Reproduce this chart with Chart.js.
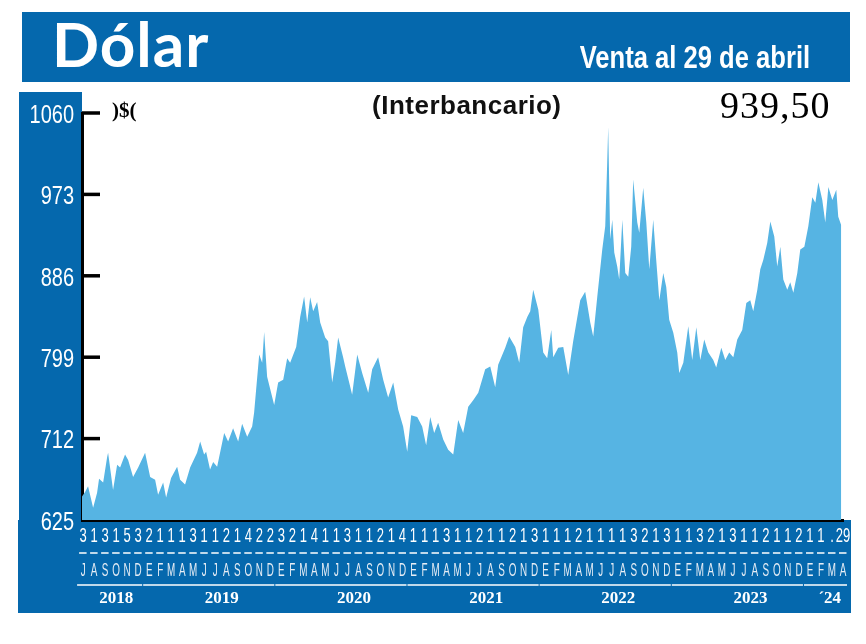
<!DOCTYPE html>
<html lang="es">
<head>
<meta charset="utf-8">
<title>Dólar</title>
<script src="https://cdn.jsdelivr.net/npm/chart.js@4.4.1/dist/chart.umd.min.js"></script>
<style>
  html, body { margin: 0; padding: 0; background: #fff; }
  #wrap { position: relative; width: 866px; height: 644px; overflow: hidden; }
  #grafico { position: absolute; left: 0; top: 0; }
  .txt { position: absolute; white-space: nowrap; line-height: 1; }
  #titulo { left: 52px; top: 6px; font: bold 62px Lato, sans-serif; color: #fff; letter-spacing: 1px; }
  #venta { right: 56px; top: 39px; font: bold 32px "Liberation Sans", sans-serif; color: #fff;
           transform: scaleX(0.8); transform-origin: right top; }
  #moneda { left: 112px; top: 98px; font: bold 21px "Liberation Serif", serif; color: #000; }
  #inter { left: 372px; top: 90px; font: bold 26px "Liberation Sans", sans-serif; color: #111; letter-spacing: 0.5px; }
  #ultimo { left: 720px; top: 83px; font: 38px "Liberation Serif", serif; color: #000; letter-spacing: 1px; }
</style>
</head>
<body>
<div id="wrap">
  <canvas id="grafico" width="866" height="644"></canvas>
  <div class="txt" id="titulo">Dólar</div>
  <div class="txt" id="venta">Venta al 29 de abril</div>
  <div class="txt" id="moneda">)$(</div>
  <div class="txt" id="inter">(Interbancario)</div>
  <div class="txt" id="ultimo">939,50</div>
</div>
<script>
// posicion en meses desde julio 2018 (0 = J 2018, 69 = A 2024)
const mesPos = [
  -0.1, 0.18, 0.45, 0.91, 1.27, 1.45, 1.82, 2.18, 2.27, 2.72, 3.09, 3.36, 3.81, 4.09, 4.54, 5.0,
  5.63, 6.09, 6.54, 6.81, 7.27, 7.54, 7.99, 8.54, 8.81, 9.26, 9.72, 10.35, 10.63, 10.99, 11.17, 11.53,
  11.81, 12.17, 12.81, 13.17, 13.62, 14.08, 14.44, 14.9, 15.35, 15.53, 15.99, 16.26, 16.44, 16.71, 17.35, 17.71,
  18.17, 18.53, 18.8, 19.35, 19.71, 20.07, 20.35, 20.62, 20.89, 21.25, 21.53, 21.98, 22.25, 22.62, 22.89, 23.16,
  23.61, 23.8, 24.16, 24.43, 24.89, 25.34, 25.89, 26.25, 26.79, 27.25, 27.7, 28.16, 28.61, 29.06, 29.43, 29.79,
  30.34, 30.79, 31.15, 31.52, 31.88, 32.24, 32.7, 33.15, 33.61, 34.06, 34.51, 34.97, 35.42, 35.88, 36.51, 36.97,
  37.42, 37.69, 38.33, 38.69, 39.24, 39.6, 39.96, 40.33, 40.6, 40.87, 41.33, 41.78, 42.14, 42.51, 42.69, 43.14,
  43.6, 44.05, 44.5, 45.14, 45.59, 46.05, 46.32, 46.69, 47.14, 47.41, 47.59, 47.68, 47.86, 48.05, 48.23, 48.5,
  48.68, 48.96, 49.23, 49.5, 49.77, 49.95, 50.32, 50.5, 50.86, 51.14, 51.41, 51.77, 52.04, 52.32, 52.68, 52.95,
  53.22, 53.59, 53.95, 54.13, 54.5, 54.95, 55.31, 55.68, 56.04, 56.4, 56.77, 57.22, 57.49, 57.95, 58.31, 58.67,
  59.04, 59.4, 59.85, 60.22, 60.58, 60.85, 61.22, 61.49, 61.76, 62.12, 62.4, 62.76, 63.03, 63.31, 63.58, 63.94,
  64.21, 64.49, 64.85, 65.12, 65.49, 65.85, 66.21, 66.49, 66.76, 67.12, 67.39, 67.67, 68.03, 68.39, 68.57, 68.84
];
const dolar = [
  650, 655, 661, 638, 654, 669, 665, 692, 697, 657, 684, 681, 695, 689, 671, 681,
  697, 671, 668, 652, 665, 649, 670, 682, 668, 663, 681, 697, 709, 695, 698, 679,
  687, 682, 718, 709, 723, 709, 728, 714, 725, 740, 802, 793, 826, 778, 748, 772,
  775, 798, 793, 810, 842, 864, 836, 863, 848, 858, 836, 820, 816, 772, 793, 820,
  799, 789, 772, 759, 802, 782, 761, 786, 799, 775, 756, 772, 743, 725, 698, 737,
  735, 725, 705, 735, 718, 729, 711, 700, 695, 732, 718, 746, 753, 761, 786, 789,
  767, 791, 809, 821, 810, 793, 831, 842, 848, 871, 850, 804, 798, 828, 799, 809,
  810, 780, 816, 860, 869, 836, 821, 864, 914, 939, 1007, 1045, 925, 946, 911, 896,
  882, 946, 889, 885, 917, 989, 943, 932, 980, 943, 893, 946, 903, 860, 889, 874,
  839, 825, 804, 782, 793, 832, 796, 831, 796, 818, 804, 796, 788, 809, 796, 804,
  799, 818, 828, 857, 860, 848, 871, 893, 903, 921, 944, 928, 896, 917, 882, 871,
  879, 868, 889, 914, 917, 939, 970, 964, 986, 967, 943, 981, 967, 978, 949, 940
];

const yTicks = [625, 712, 799, 886, 973, 1060];

const diaLabels = [
  '3','1','3','1','5','3',
  '2','1','1','1','3','1','1','2','1','4','2','2',
  '3','2','1','4','1','1','3','1','1','2','1','4',
  '1','1','1','3','1','1','2','1','1','2','1','3',
  '1','1','1','2','1','1','1','1','3','2','1','3',
  '1','1','3','2','1','3','1','1','2','1','1','2',
  '1','1','.','29'
];
const meses = [
  'J','A','S','O','N','D',
  'E','F','M','A','M','J','J','A','S','O','N','D',
  'E','F','M','A','M','J','J','A','S','O','N','D',
  'E','F','M','A','M','J','J','A','S','O','N','D',
  'E','F','M','A','M','J','J','A','S','O','N','D',
  'E','F','M','A','M','J','J','A','S','O','N','D',
  'E','F','M','A'
];
const anios = ['2018', '2019', '2020', '2021', '2022', '2023', '\u00B424'];
const mesesPorAnio = [6, 12, 12, 12, 12, 12, 4];

const AZUL = '#0568ad';
const CELESTE = '#56b4e3';
const SANS = "'Liberation Sans', Arial, sans-serif";

// texto angosto: escala horizontal del contexto
function textoAngosto(ctx, txt, x, y, sx) {
  ctx.save();
  ctx.translate(x, y);
  ctx.scale(sx, 1);
  ctx.fillText(txt, 0, 0);
  ctx.restore();
}

const marco = {
  id: 'marco',
  beforeDraw(chart) {
    const ctx = chart.ctx;
    ctx.save();
    ctx.fillStyle = AZUL;
    ctx.fillRect(22, 12, 828, 70);
    ctx.fillRect(19, 92, 63, 430);
    ctx.fillRect(18, 520, 833, 93);
    ctx.restore();
  },
  afterDraw(chart) {
    const { ctx, scales: { x, y } } = chart;
    ctx.save();
    // marcas hacia adentro del eje Y
    ctx.strokeStyle = '#000';
    ctx.lineWidth = 3.5;
    yTicks.slice(1).forEach(v => {
      const py = y.getPixelForValue(v);
      ctx.beginPath();
      ctx.moveTo(x.left, py);
      ctx.lineTo(x.left + 18, py);
      ctx.stroke();
    });
    // etiquetas del eje Y
    ctx.fillStyle = '#fff';
    ctx.font = '25px ' + SANS;
    ctx.textAlign = 'right';
    ctx.textBaseline = 'middle';
    yTicks.forEach(v => textoAngosto(ctx, String(v), 74, y.getPixelForValue(v) + 3, 0.8));
    // fila de digitos
    ctx.textAlign = 'center';
    ctx.textBaseline = 'top';
    ctx.font = '21px ' + SANS;
    diaLabels.forEach((d, i) => textoAngosto(ctx, d, x.getPixelForValue(i), 526, 0.62));
    // guiones y meses
    ctx.strokeStyle = '#fff';
    ctx.lineWidth = 1.5;
    ctx.fillStyle = '#e6edf5';
    ctx.font = '19px ' + SANS;
    ctx.textBaseline = 'alphabetic';
    meses.forEach((m, i) => {
      const px = x.getPixelForValue(i);
      ctx.beginPath();
      ctx.moveTo(px - 4, 553);
      ctx.lineTo(px + 3.5, 553);
      ctx.stroke();
      textoAngosto(ctx, m, px, 576, 0.52);
    });
    // anios con su linea
    ctx.fillStyle = '#fff';
    ctx.font = 'bold 17px "Liberation Serif", serif';
    let ini = 0;
    anios.forEach((a, k) => {
      const fin = ini + mesesPorAnio[k] - 1;
      const x0 = x.getPixelForValue(ini) - 6;
      const x1 = x.getPixelForValue(fin) + 4;
      ctx.beginPath();
      ctx.moveTo(x0, 585);
      ctx.lineTo(x1, 585);
      ctx.stroke();
      ctx.fillText(a, x.getPixelForValue(ini + 0.6 * (mesesPorAnio[k] - 1)), 603);
      ini = fin + 1;
    });
    ctx.restore();
  }
};

new Chart(document.getElementById('grafico'), {
  type: 'line',
  data: {
    datasets: [
      {
        label: 'Dólar interbancario',
        data: mesPos.map((m, i) => ({ x: m, y: dolar[i] })),
        backgroundColor: CELESTE,
        borderWidth: 0,
        pointRadius: 0,
        fill: 'start',
        tension: 0
      }
    ]
  },
  options: {
    responsive: false,
    animation: false,
    layout: { padding: { left: 0, top: 113, right: 23, bottom: 0 } },
    plugins: { legend: { display: false }, tooltip: { enabled: false } },
    scales: {
      x: {
        type: 'linear',
        min: -0.1,
        max: 69,
        z: 1,
        afterBuildTicks: s => { s.ticks = meses.map((m, i) => ({ value: i })); },
        afterFit: s => { s.height = 124; },
        grid: { display: false, drawTicks: false },
        border: { color: '#000', width: 3 },
        ticks: { display: false, autoSkip: false, maxRotation: 0 }
      },
      y: {
        min: 625,
        max: 1060,
        z: 1,
        afterBuildTicks: s => { s.ticks = yTicks.map(v => ({ value: v })); },
        afterFit: s => { s.width = 82; },
        grid: { display: false, drawTicks: false },
        border: { color: '#000', width: 3 },
        ticks: { display: false }
      }
    }
  },
  plugins: [marco]
});
</script>
</body>
</html>
